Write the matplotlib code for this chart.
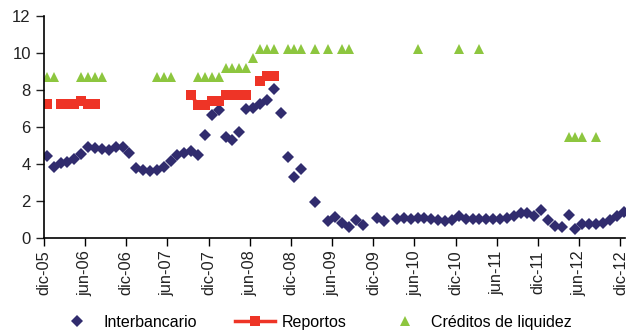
import numpy as np
import pandas as pd
import matplotlib
matplotlib.use("Agg")
import matplotlib.pyplot as plt

plt.rcParams['font.family'] = ['Liberation Sans', 'DejaVu Sans']

# Datos mensuales, dic-05 a dic-12 (85 meses)
fechas = pd.date_range('2005-12-01', '2012-12-01', freq='MS') + pd.Timedelta(days=14)

interbancario = [
    4.43, 3.84, 4.06, 4.10, 4.27, 4.54, 4.92, 4.86, 4.81, 4.76, 4.92, 4.90,
    4.60, 3.78, 3.68, 3.62, 3.68, 3.84, 4.16, 4.49, 4.60, 4.70, 4.49, 5.57,
    6.65, 6.90, 5.46, 5.30, 5.73, 6.97, 7.05, 7.24, 7.46, 8.05, 6.76, 4.38,
    3.30, 3.72, None, 1.95, None, 0.92, 1.13, 0.81, 0.59, 0.97, 0.70, None,
    1.06, 0.92, None, 1.01, 1.06, 1.05, 1.10, 1.10, 1.05, 0.98, 0.92, 0.98,
    1.19, 1.01, 1.05, 1.05, 1.01, 1.03, 1.05, 1.10, 1.20, 1.35, 1.33, 1.20,
    1.51, 0.97, 0.67, 0.61, 1.24, 0.49, 0.74, 0.74, 0.74, 0.79, 0.97, 1.20,
    1.42,
]

reportos = [
    7.22, None, 7.22, 7.22, 7.22, 7.40, 7.25, 7.25, None, None, None, None,
    None, None, None, None, None, None, None, None, None, 7.71, 7.20, 7.20,
    7.38, 7.38, 7.71, 7.71, 7.71, 7.71, None, 8.50, 8.75, 8.75,
] + [None] * 51

creditos = [
    8.70, 8.70, None, None, None, 8.70, 8.70, 8.70, 8.70, None, None, None,
    None, None, None, None, 8.70, 8.70, 8.70, None, None, None, 8.70, 8.70,
    8.70, 8.70, 9.20, 9.20, 9.20, 9.20, 9.70, 10.2, 10.2, 10.2, None, 10.2,
    10.2, 10.2, None, 10.2, None, 10.2, None, 10.2, 10.2, None, None, None,
    None, None, None, None, None, None, 10.2, None, None, None, None, None,
    10.2, None, None, 10.2, None, None, None, None, None, None, None, None,
    None, None, None, None, 5.45, 5.45, 5.45, None, 5.45, None, None, None,
    None,
]

etiquetas_x = ['dic-05', 'jun-06', 'dic-06', 'jun-07', 'dic-07', 'jun-08', 'dic-08',
               'jun-09', 'dic-09', 'jun-10', 'dic-10', 'jun-11', 'dic-11', 'jun-12', 'dic-12']

ib = np.array(interbancario, dtype=float)
rp = np.array(reportos, dtype=float)
cr = np.array(creditos, dtype=float)

fig = plt.figure(figsize=(6.29, 3.31), dpi=100)
ax = fig.add_axes([0.0700, 0.281, 0.924, 0.671])

ax.plot(fechas, ib, linestyle='none', marker='D', markersize=5.8,
        color='#312c6e', markeredgewidth=0, label='Interbancario')
ax.plot(fechas, rp, linestyle='-', linewidth=2.5, marker='s', markersize=7,
        color='#ee3426', markeredgewidth=0, label='Reportos')
ax.plot(fechas, cr, linestyle='none', marker='^', markersize=7.8,
        color='#8dc63f', markeredgewidth=0, label='Créditos de liquidez')

# Eje x
ticks = pd.date_range('2005-12-01', '2012-12-01', freq='6MS')
ax.set_xticks(ticks)
ax.set_xticklabels(etiquetas_x, rotation=90, fontsize=11.8, color='#222222')
ax.set_xlim(pd.Timestamp('2005-12-01'), pd.Timestamp('2012-12-22'))

# Eje y
ax.set_ylim(0, 12)
ax.set_yticks(np.arange(0, 13, 2))
ax.tick_params(axis='y', labelsize=12, colors='#222222', length=6, width=1)
ax.tick_params(axis='x', length=6, width=1, pad=3)

for s in ['top', 'right']:
    ax.spines[s].set_visible(False)
for s in ['left', 'bottom']:
    ax.spines[s].set_linewidth(1.2)
    ax.spines[s].set_color('black')

fig.legend(loc='center', bbox_to_anchor=(0.5, 0.027), ncol=3, frameon=False,
           fontsize=11.5, handlelength=2.5, handletextpad=0.4, columnspacing=2.4,
           borderaxespad=0)

fig.savefig('out.png', dpi=100)
